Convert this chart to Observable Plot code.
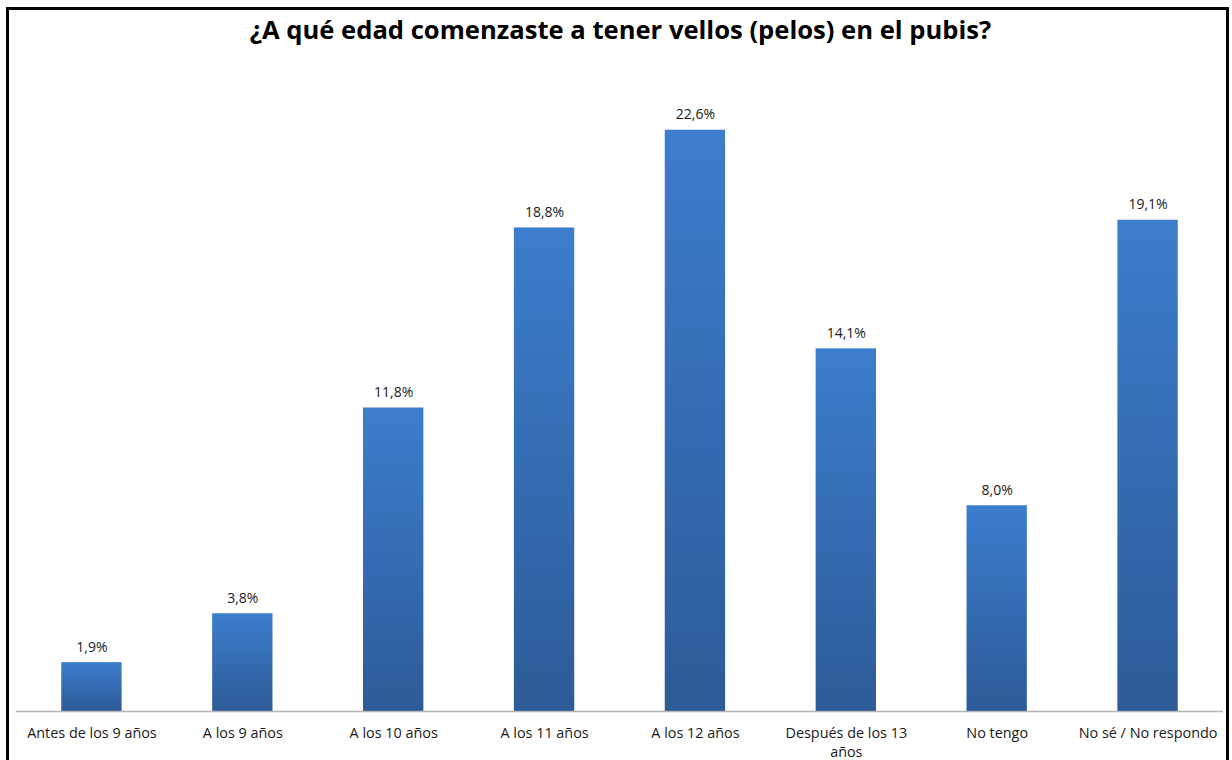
<!DOCTYPE html>
<html>
<head>
<meta charset="utf-8">
<script src="https://cdn.jsdelivr.net/npm/d3@7"></script>
<script src="https://cdn.jsdelivr.net/npm/@observablehq/plot@0.6"></script>
<style>
  html, body { margin: 0; padding: 0; background: #fff; width: 1232px; height: 760px; overflow: hidden; }
  #frame { position: absolute; left: 6px; top: 7px; width: 1223px; height: 800px; box-sizing: border-box; border: 3px solid #000; }
  #title { position: absolute; left: 0; top: 12px; width: 1241px; text-align: center; font-family: "Open Sans", sans-serif; font-weight: bold; font-size: 25.6px; line-height: 36px; color: #000; }
  #chart { position: absolute; left: 0; top: 60px; }
</style>
</head>
<body>
<div id="frame"></div>
<div id="title">¿A qué edad comenzaste a tener vellos (pelos) en el pubis?</div>
<div id="chart"></div>
<script>
const categories = ["Antes de los 9 años", "A los 9 años", "A los 10 años", "A los 11 años", "A los 12 años", "Después de los 13 años", "No tengo", "No sé / No respondo"];
const values = [1.9, 3.8, 11.8, 18.8, 22.6, 14.1, 8.0, 19.1];
const valueLabels = ["1,9%", "3,8%", "11,8%", "18,8%", "22,6%", "14,1%", "8,0%", "19,1%"];

const data = categories.map((c, i) => ({category: c, value: values[i], label: valueLabels[i]}));

const chart = Plot.plot({
  width: 1232,
  height: 700,
  marginLeft: 16,
  marginRight: 9,
  marginTop: 8,
  marginBottom: 49,
  style: {fontFamily: "'Open Sans', sans-serif", fontSize: "14px", color: "#1a1a1a", background: "transparent"},
  x: {domain: categories, paddingInner: 0.6, paddingOuter: 0.3, round: false, label: null},
  y: {domain: [0, 25], axis: null},
  marks: [
    Plot.barY(data, {x: "category", y: "value", fill: "url(#barGrad)"}),
    Plot.ruleY([0], {stroke: "#b5b5b5", strokeWidth: 1.5}),
    Plot.text(data, {x: "category", y: "value", text: "label", lineAnchor: "bottom", dy: -11, fill: "#1a1a1a", fontSize: 14}),
    Plot.axisX({tickSize: 0, tickPadding: 13, lineHeight: 1.32, fontSize: 14.4, fill: "#1a1a1a",
      tickFormat: d => d.replace("13 años", "13\naños")})
  ]
});

const svg = d3.select(chart);
const defs = svg.insert("defs", ":first-child");
const g = defs.append("linearGradient").attr("id", "barGrad").attr("x1", 0).attr("y1", 0).attr("x2", 0).attr("y2", 1);
g.append("stop").attr("offset", "0%").attr("stop-color", "#3c7dcd");
g.append("stop").attr("offset", "100%").attr("stop-color", "#2d5b97");

document.getElementById("chart").appendChild(chart);
</script>
</body>
</html>
